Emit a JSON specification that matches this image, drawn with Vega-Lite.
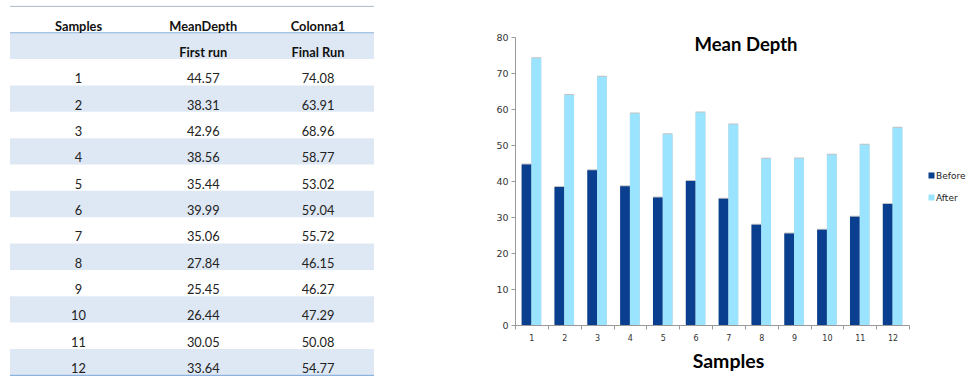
{
  "$schema": "https://vega.github.io/schema/vega-lite/v6.json",
  "padding": {"left": 9, "top": 5, "right": 2, "bottom": 0},
  "background": "white",
  "spacing": 120,
  "config": {"view": {"stroke": null}},
  "datasets": {
    "depth": [
      {"Sample": 1, "First": 44.57, "Final": 74.08},
      {"Sample": 2, "First": 38.31, "Final": 63.91},
      {"Sample": 3, "First": 42.96, "Final": 68.96},
      {"Sample": 4, "First": 38.56, "Final": 58.77},
      {"Sample": 5, "First": 35.44, "Final": 53.02},
      {"Sample": 6, "First": 39.99, "Final": 59.04},
      {"Sample": 7, "First": 35.06, "Final": 55.72},
      {"Sample": 8, "First": 27.84, "Final": 46.15},
      {"Sample": 9, "First": 25.45, "Final": 46.27},
      {"Sample": 10, "First": 26.44, "Final": 47.29},
      {"Sample": 11, "First": 30.05, "Final": 50.08},
      {"Sample": 12, "First": 33.64, "Final": 54.77}
    ],
    "header": [
      {"row": -1, "col": "Samples", "label": "Samples"},
      {"row": -1, "col": "MeanDepth", "label": "MeanDepth"},
      {"row": -1, "col": "Colonna1", "label": "Colonna1"},
      {"row": 0, "col": "MeanDepth", "label": "First run"},
      {"row": 0, "col": "Colonna1", "label": "Final Run"}
    ]
  },
  "hconcat": [
    {
      "width": 364,
      "height": 338,
      "encoding": {
        "x": {
          "type": "nominal",
          "scale": {"type": "point", "domain": ["Samples", "MeanDepth", "Colonna1"], "range": [68.5, 308], "padding": 0},
          "axis": null
        },
        "y": {
          "type": "ordinal",
          "scale": {"type": "band", "domain": [-1, 0, 1, 2, 3, 4, 5, 6, 7, 8, 9, 10, 11, 12], "range": [-30.6, 338.3], "paddingInner": 0, "paddingOuter": 0},
          "axis": null
        }
      },
      "layer": [
        {
          "data": {"name": "header"},
          "transform": [{"filter": "datum.row === 0 && datum.col === 'MeanDepth'"}],
          "mark": {"type": "rect", "color": "#DEE8F4"},
          "encoding": {"x": null, "y": {"field": "row"}}
        },
        {
          "data": {"name": "depth"},
          "transform": [{"filter": "datum.Sample % 2 === 0"}],
          "mark": {"type": "rect", "color": "#DEE8F4"},
          "encoding": {"x": null, "y": {"field": "Sample"}}
        },
        {
          "data": {"values": [{}]},
          "mark": {"type": "rule", "color": "#A9BACD", "strokeWidth": 1},
          "encoding": {"x": null, "y": {"datum": -1, "bandPosition": 0}}
        },
        {
          "data": {"values": [{}]},
          "mark": {"type": "rule", "color": "#8EB2DE", "strokeWidth": 1.2},
          "encoding": {"x": null, "y": {"datum": 0, "bandPosition": 0}}
        },
        {
          "data": {"values": [{}]},
          "mark": {"type": "rule", "color": "#8EB2DE", "strokeWidth": 1.2},
          "encoding": {"x": null, "y": {"datum": 12, "bandPosition": 1}}
        },
        {
          "data": {"name": "header"},
          "transform": [{"filter": "datum.col !== 'MeanDepth'"}],
          "mark": {"type": "text", "font": "Lato", "fontSize": 12.8, "fontWeight": "bold", "color": "#111", "baseline": "middle", "dy": 7},
          "encoding": {"x": {"field": "col"}, "y": {"field": "row"}, "text": {"field": "label"}}
        },
        {
          "data": {"name": "header"},
          "transform": [{"filter": "datum.col === 'MeanDepth'"}],
          "mark": {"type": "text", "font": "Lato", "fontSize": 12.8, "fontWeight": "bold", "color": "#111", "baseline": "middle", "dy": 7, "dx": 5},
          "encoding": {"x": {"field": "col"}, "y": {"field": "row"}, "text": {"field": "label"}}
        },
        {
          "data": {"name": "depth"},
          "mark": {"type": "text", "font": "Lato", "fontSize": 12.8, "color": "#222", "baseline": "middle", "dy": 7},
          "encoding": {"x": {"datum": "Samples"}, "y": {"field": "Sample"}, "text": {"field": "Sample"}}
        },
        {
          "data": {"name": "depth"},
          "mark": {"type": "text", "font": "Lato", "fontSize": 12.8, "color": "#222", "baseline": "middle", "dy": 7, "dx": 5},
          "encoding": {"x": {"datum": "MeanDepth"}, "y": {"field": "Sample"}, "text": {"field": "First", "format": ".2f"}}
        },
        {
          "data": {"name": "depth"},
          "mark": {"type": "text", "font": "Lato", "fontSize": 12.8, "color": "#222", "baseline": "middle", "dy": 7},
          "encoding": {"x": {"datum": "Colonna1"}, "y": {"field": "Sample"}, "text": {"field": "Final", "format": ".2f"}}
        }
      ]
    },
    {
      "width": 394,
      "height": 288,
      "data": {"name": "depth"},
      "transform": [
        {"fold": ["First", "Final"], "as": ["Run", "MeanDepth"]},
        {"calculate": "datum.Run === 'First' ? 'Before' : 'After'", "as": "Series"}
      ],
      "title": {
        "text": "Mean Depth",
        "font": "Lato",
        "fontSize": 18.5,
        "fontWeight": "bold",
        "color": "#000",
        "frame": "group",
        "anchor": "middle",
        "baseline": "alphabetic",
        "offset": 0,
        "dx": 34,
        "dy": 37
      },
      "encoding": {
        "x": {
          "field": "Sample",
          "type": "ordinal",
          "title": "Samples",
          "scale": {"paddingInner": 0, "paddingOuter": 0},
          "axis": {
            "labelAngle": 0,
            "labelFont": "DejaVu Sans",
            "labelFontSize": 8,
            "labelColor": "#333",
            "labelPadding": 5,
            "tickBand": "extent",
            "tickSize": 4,
            "tickColor": "#999",
            "domainColor": "#999",
            "titleFont": "Lato",
            "titleFontSize": 19.5,
            "titleFontWeight": "bold",
            "titleColor": "#000",
            "titlePadding": 10,
            "titleX": 213,
            "titleAlign": "center"
          }
        },
        "xOffset": {
          "field": "Series",
          "type": "nominal",
          "sort": ["Before", "After"],
          "scale": {"paddingOuter": 0.68, "paddingInner": 0}
        },
        "y": {
          "field": "MeanDepth",
          "type": "quantitative",
          "title": null,
          "scale": {"domain": [0, 80], "nice": false},
          "axis": {
            "values": [0, 10, 20, 30, 40, 50, 60, 70, 80],
            "grid": false,
            "labelFont": "DejaVu Sans",
            "labelFontSize": 9.5,
            "labelColor": "#333",
            "labelPadding": 3,
            "tickSize": 4,
            "tickColor": "#999",
            "domainColor": "#999"
          }
        }
      },
      "layer": [
        {
          "mark": {"type": "bar", "color": "#A8A8A8", "opacity": 0.7, "xOffset": 2, "yOffset": -1}
        },
        {
          "mark": {"type": "bar"},
          "encoding": {
            "color": {
              "field": "Series",
              "type": "nominal",
              "sort": ["Before", "After"],
              "scale": {"domain": ["Before", "After"], "range": ["#0A3F8F", "#9AE4FF"]},
              "legend": {
                "title": null,
                "orient": "none",
                "legendX": 917,
                "legendY": 134,
                "padding": 0,
                "symbolType": "square",
                "symbolSize": 36,
                "symbolStrokeWidth": 0,
                "labelFont": "DejaVu Sans",
                "labelFontSize": 9,
                "labelColor": "#222",
                "labelOffset": 0,
                "rowPadding": 12
              }
            }
          }
        }
      ]
    }
  ]
}
